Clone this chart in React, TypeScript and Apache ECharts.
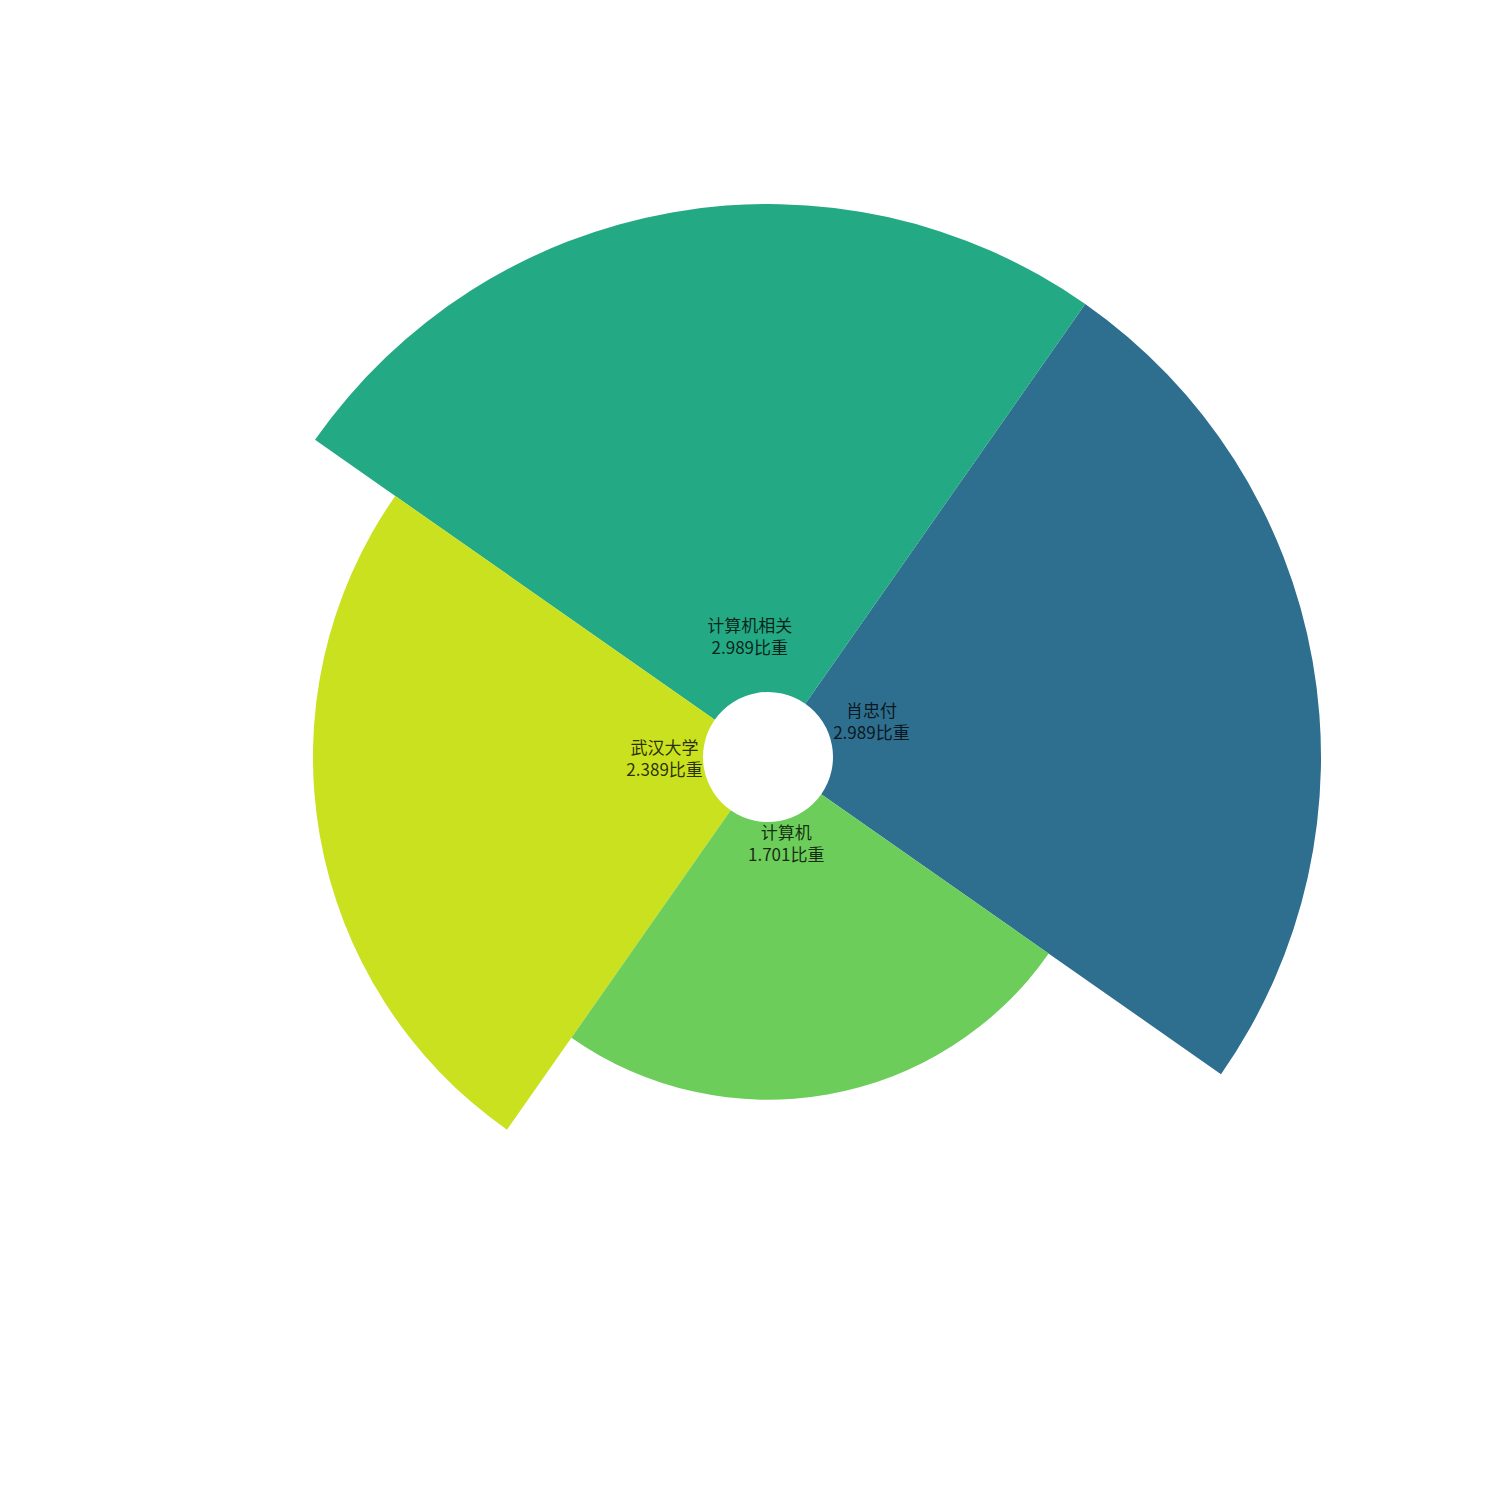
import React, { useEffect, useRef } from "react";
import * as echarts from "echarts";

const CATEGORIES = ["肖忠付", "计算机相关", "武汉大学", "计算机"];
const VALUES = [2.989, 2.989, 2.389, 1.701];
const COLORS = ["#2e6e8e", "#23a983", "#c9e11f", "#6ccd5a"];
const UNIT = "比重";

export default function App() {
  const ref = useRef<HTMLDivElement>(null);
  useEffect(() => {
    document.body.style.margin = "0";
    const chart = echarts.init(ref.current!, null, { renderer: "svg" });
    const maxV = Math.max(...VALUES);
    const labelR = maxV * (40 / 488);
    chart.setOption({
      animation: false,
      backgroundColor: "#ffffff",
      polar: { center: [768, 757], radius: [65, 553] },
      angleAxis: {
        type: "category",
        data: CATEGORIES,
        startAngle: -35,
        clockwise: false,
        show: false,
      },
      radiusAxis: {
        type: "value",
        min: 0,
        max: maxV,
        show: false,
        splitLine: { show: false },
      },
      series: [
        {
          type: "bar",
          coordinateSystem: "polar",
          barCategoryGap: "0%",
          data: VALUES.map((v, i) => ({ value: v, itemStyle: { color: COLORS[i] } })),
          silent: true,
        },
        {
          type: "scatter",
          coordinateSystem: "polar",
          symbolSize: 0,
          silent: true,
          data: CATEGORIES.map((c, i) => ({ value: [labelR, i], name: c })),
          label: {
            show: true,
            position: "inside",
            offset: [0, -18],
            color: "#000",
            fontFamily: "Noto Sans CJK SC",
            fontSize: 17,
            lineHeight: 22,
            align: "center",
            formatter: (p: any) => `${p.name}\n${VALUES[p.dataIndex].toFixed(3)}${UNIT}`,
          },
        },
      ],
    });
    return () => chart.dispose();
  }, []);
  return <div ref={ref} style={{ width: 1500, height: 1500 }} />;
}
